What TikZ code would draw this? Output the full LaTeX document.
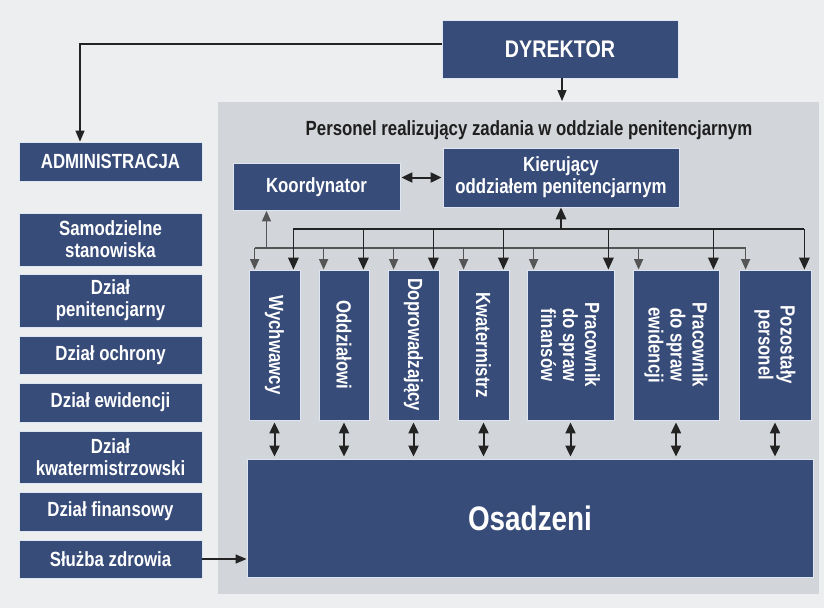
\documentclass[tikz,border=0pt]{standalone}
\usepackage{fontspec}
\setmainfont{Liberation Sans}[FakeStretch=0.82]
\usetikzlibrary{arrows.meta}
\definecolor{navy}{RGB}{56,76,122}
\definecolor{panelgray}{RGB}{210,213,217}
\definecolor{bggray}{RGB}{236,238,239}
\definecolor{edge}{RGB}{222,230,242}
\definecolor{arrgray}{RGB}{85,85,85}
\definecolor{arrdark}{RGB}{35,35,35}
\newcommand{\boxfont}{\bfseries\fontsize{20.5}{22}\selectfont}
\begin{document}
\begin{tikzpicture}[x=1pt,y=-1pt,
  box/.style={draw=edge, line width=0.8pt, fill=navy, text=white, font=\boxfont, align=center, inner sep=0pt},
  vtext/.style={rotate=-90, text=white, font=\boxfont, align=center, inner sep=0pt},
  blk/.style={draw=arrdark, line width=1.7pt, -{Triangle[length=12pt,width=10.5pt]}},
  gry/.style={draw=arrgray, line width=1.5pt, -{Triangle[length=10.5pt,width=9pt]}},
  thinarr/.style={draw=arrdark, line width=1.2pt, -{Triangle[length=11pt,width=9pt]}},
  dbl/.style={draw=arrdark, line width=2pt, {Triangle[length=11pt,width=10pt]}-{Triangle[length=11pt,width=10pt]}, shorten <=2pt, shorten >=2pt},
  busblk/.style={draw=arrdark, line width=1.7pt},
  busgry/.style={draw=arrgray, line width=1.5pt}
]
\useasboundingbox (0,0) rectangle (824,608);
\fill[bggray] (0,0) rectangle (824,608);
\fill[panelgray] (218,102) rectangle (819,594);
\coordinate (ptop) at (0,101);
\coordinate (ub) at (0,229);
\coordinate (lb) at (0,248);

% top
\node[box, minimum width=236pt, minimum height=58pt, font=\bfseries\fontsize{24}{26}\selectfont] (dyr) at (560,49) {DYREKTOR};

% left column
\node[box, minimum width=183pt, minimum height=39pt] (adm) at (110.5,161.5) {ADMINISTRACJA};
\node[box, minimum width=183pt, minimum height=53pt] (samo) at (110.5,239.5) {Samodzielne\\stanowiska};
\node[box, minimum width=183pt, minimum height=53pt] (dpen) at (110.5,300.5) {Dział\\penitencjarny};
\node[box, minimum width=183pt, minimum height=38pt] (doch) at (110.5,355) {Dział ochrony};
\node[box, minimum width=183pt, minimum height=39pt] (dewi) at (110.5,402.5) {Dział ewidencji};
\node[box, minimum width=183pt, minimum height=52pt] (dkwa) at (110.5,457) {Dział\\kwatermistrzowski};
\node[box, minimum width=183pt, minimum height=39pt] (dfin) at (110.5,511.5) {Dział finansowy};
\node[box, minimum width=183pt, minimum height=38pt] (sluz) at (110.5,559) {Służba zdrowia};

% panel content
\node[font=\boxfont, text=black!88, anchor=base, inner sep=0pt] (title) at (529,135) {Personel realizujący zadania w oddziale penitencjarnym};
\node[box, minimum width=167pt, minimum height=47pt] (koord) at (316.5,187) {Koordynator};
\node[box, minimum width=236pt, minimum height=59pt] (kier) at (561,177.5) {Kierujący\\oddziałem penitencjarnym};

% vertical boxes
\node[box, minimum width=51pt, minimum height=150pt] (wych) at (274.5,345) {};
\node[box, minimum width=50pt, minimum height=150pt] (oddz) at (344,345) {};
\node[box, minimum width=51pt, minimum height=150pt] (dopr) at (413.5,345) {};
\node[box, minimum width=51pt, minimum height=150pt] (kwat) at (483.5,345) {};
\node[box, minimum width=87pt, minimum height=150pt] (pfin) at (570.5,345) {};
\node[box, minimum width=86pt, minimum height=150pt] (pewi) at (676,345) {};
\node[box, minimum width=72pt, minimum height=150pt] (poz) at (775,345) {};
\node[vtext] (twych) at (wych) {Wychwawcy};
\node[vtext] (toddz) at (oddz) {Oddziałowi};
\node[vtext] (tdopr) at (dopr) {Doprowadzający};
\node[vtext] (tkwat) at (kwat) {Kwatermistrz};
\node[vtext] (tpfin) at (pfin) {Pracownik\\do spraw\\finansów};
\node[vtext] (tpewi) at (pewi) {Pracownik\\do spraw\\ewidencji};
\node[vtext] (tpoz) at (poz) {Pozostały\\personel};

\node[box, minimum width=566pt, minimum height=118pt, font=\bfseries\fontsize{34}{36}\selectfont] (osa) at (530,518) {Osadzeni};

% bus attach points
\coordinate (wL) at ([xshift=6pt]wych.north west);
\coordinate (wR) at ([xshift=-7pt]wych.north east);
\coordinate (oL) at ([xshift=5pt]oddz.north west);
\coordinate (oR) at ([xshift=-6pt]oddz.north east);
\coordinate (dL) at ([xshift=6pt]dopr.north west);
\coordinate (dR) at ([xshift=-6pt]dopr.north east);
\coordinate (kL) at ([xshift=6pt]kwat.north west);
\coordinate (kR) at ([xshift=-6pt]kwat.north east);
\coordinate (fL) at ([xshift=7pt]pfin.north west);
\coordinate (fR) at ([xshift=-6pt]pfin.north east);
\coordinate (eL) at ([xshift=6pt]pewi.north west);
\coordinate (eR) at ([xshift=-6pt]pewi.north east);
\coordinate (pL) at ([xshift=7pt]poz.north west);
\coordinate (pR) at ([xshift=-7pt]poz.north east);
\coordinate (kup) at ([xshift=-50pt]koord.south);

% lower (gray) bus
\draw[busgry] (wL |- lb) -- (pL |- lb);
\foreach \n in {wL,oL,dL,kL,fL,eL,pL} \draw[gry] (\n |- lb) -- (\n);
\draw[gry] (kup |- lb) -- (kup);

% upper (black) bus
\draw[busblk] (wR |- ub) -- (pR |- ub);
\foreach \n in {wR,oR,dR,kR,fR,eR,pR} \draw[blk] (\n |- ub) -- (\n);
\draw[blk] (kier.south |- ub) -- (kier.south);

% koordynator <-> kierujacy
\draw[dbl, shorten <=1pt, shorten >=1pt] (koord.east |- kier.west) -- (kier.west);

% boxes <-> osadzeni
\foreach \n in {wych,oddz,dopr,kwat,pfin,pewi,poz} \draw[dbl] (\n.south) -- (\n.south |- osa.north);

% director connectors
\draw[thinarr] ([yshift=5pt]dyr.west) -| ([xshift=-30.5pt]adm.north);
\draw[thinarr] ([xshift=2pt]dyr.south) -- ([xshift=2pt]dyr.south |- ptop);

% sluzba zdrowia -> osadzeni
\draw[thinarr] (sluz.east) -- (sluz.east -| osa.west);
\end{tikzpicture}
\end{document}
